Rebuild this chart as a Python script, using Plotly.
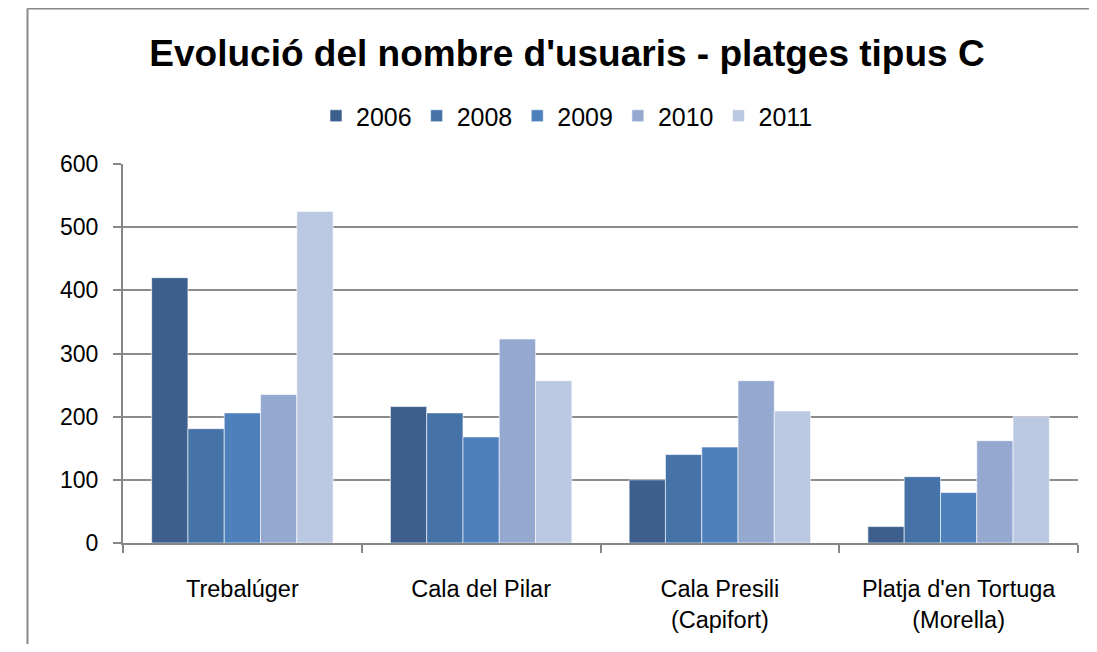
import plotly.graph_objects as go

categories = ["Trebalúger", "Cala del Pilar", "Cala Presili<br>(Capifort)", "Platja d'en Tortuga<br>(Morella)"]
years = ["2006", "2008", "2009", "2010", "2011"]
v2006 = [420, 216, 100, 26]
v2008 = [181, 206, 140, 105]
v2009 = [206, 168, 152, 80]
v2010 = [235, 323, 257, 162]
v2011 = [525, 257, 209, 200]
series = [v2006, v2008, v2009, v2010, v2011]
colors = ["#3C5F8E", "#4572A7", "#4E80BC", "#95A9D0", "#BBC8E1"]

# page body has an 8px margin; figure sized to fit the 1097x652 window without scrolling.
# all pixel positions below are in viewport coords
OFF = 8
W, H = 1097 - 2 * OFF, 652 - 2 * OFF
ML, MT = 123 - OFF, 164 - OFF
MR = W - (1078 - OFF)
MB = H - (543 - OFF)
PW, PH = W - ML - MR, H - MT - MB

def px_x(x):
    return (x - OFF - ML) / PW

def px_y(y):
    return (H - MB - (y - OFF)) / PH

fig = go.Figure()
for name, vals, col in zip(years, series, colors):
    fig.add_trace(go.Bar(
        x=categories, y=vals, name=name,
        marker=dict(color=col, line=dict(color="rgba(255,255,255,0.6)", width=1)),
    ))

font_family = "Liberation Sans, Arial, sans-serif"

fig.update_layout(
    width=W, height=H,
    margin=dict(l=ML, r=MR, t=MT, b=MB),
    paper_bgcolor="white", plot_bgcolor="white",
    barmode="group", bargap=0.24, bargroupgap=0,
    font=dict(family=font_family, color="black", size=23),
    title=dict(
        text="<b>Evolució del nombre d'usuaris - platges tipus C</b>",
        x=(567 - OFF) / W, xanchor="center", xref="container",
        y=(H - (53 - OFF)) / H, yanchor="middle", yref="container",
        font=dict(size=37, family=font_family, color="black"),
    ),
    legend=dict(
        orientation="h", x=px_x(567), xanchor="center",
        y=px_y(116), yanchor="middle",
        font=dict(size=25, family=font_family, color="black"),
        itemclick=False, traceorder="normal",
    ),
    showlegend=True,
)

fig.update_yaxes(
    range=[0, 600], dtick=100, tick0=0,
    showgrid=True, gridcolor="#8C8C8C", gridwidth=2,
    showline=True, linecolor="#868686", linewidth=2,
    ticks="outside", ticklen=8, tickcolor="#868686", tickwidth=2,
    zeroline=False,
    tickfont=dict(size=23, family=font_family, color="black"),
    ticklabelstandoff=10,
)
fig.update_xaxes(
    showline=True, linecolor="#868686", linewidth=2,
    ticks="outside", ticklen=8, tickcolor="#868686", tickwidth=2,
    tickson="boundaries",
    showgrid=False,
    tickfont=dict(size=23.5, family=font_family, color="black"),
    ticklabelstandoff=24,
)

# chart-area border (left and top edges visible in the frame)
fig.add_shape(
    type="line", xref="paper", yref="paper",
    x0=px_x(27.5), x1=px_x(27.5), y0=px_y(700), y1=px_y(8.5),
    line=dict(color="#888888", width=2), layer="below",
)
fig.add_shape(
    type="line", xref="paper", yref="paper",
    x0=px_x(27.5), x1=px_x(1120), y0=px_y(8.5), y1=px_y(8.5),
    line=dict(color="#888888", width=2), layer="below",
)

fig.write_html("out.html")
